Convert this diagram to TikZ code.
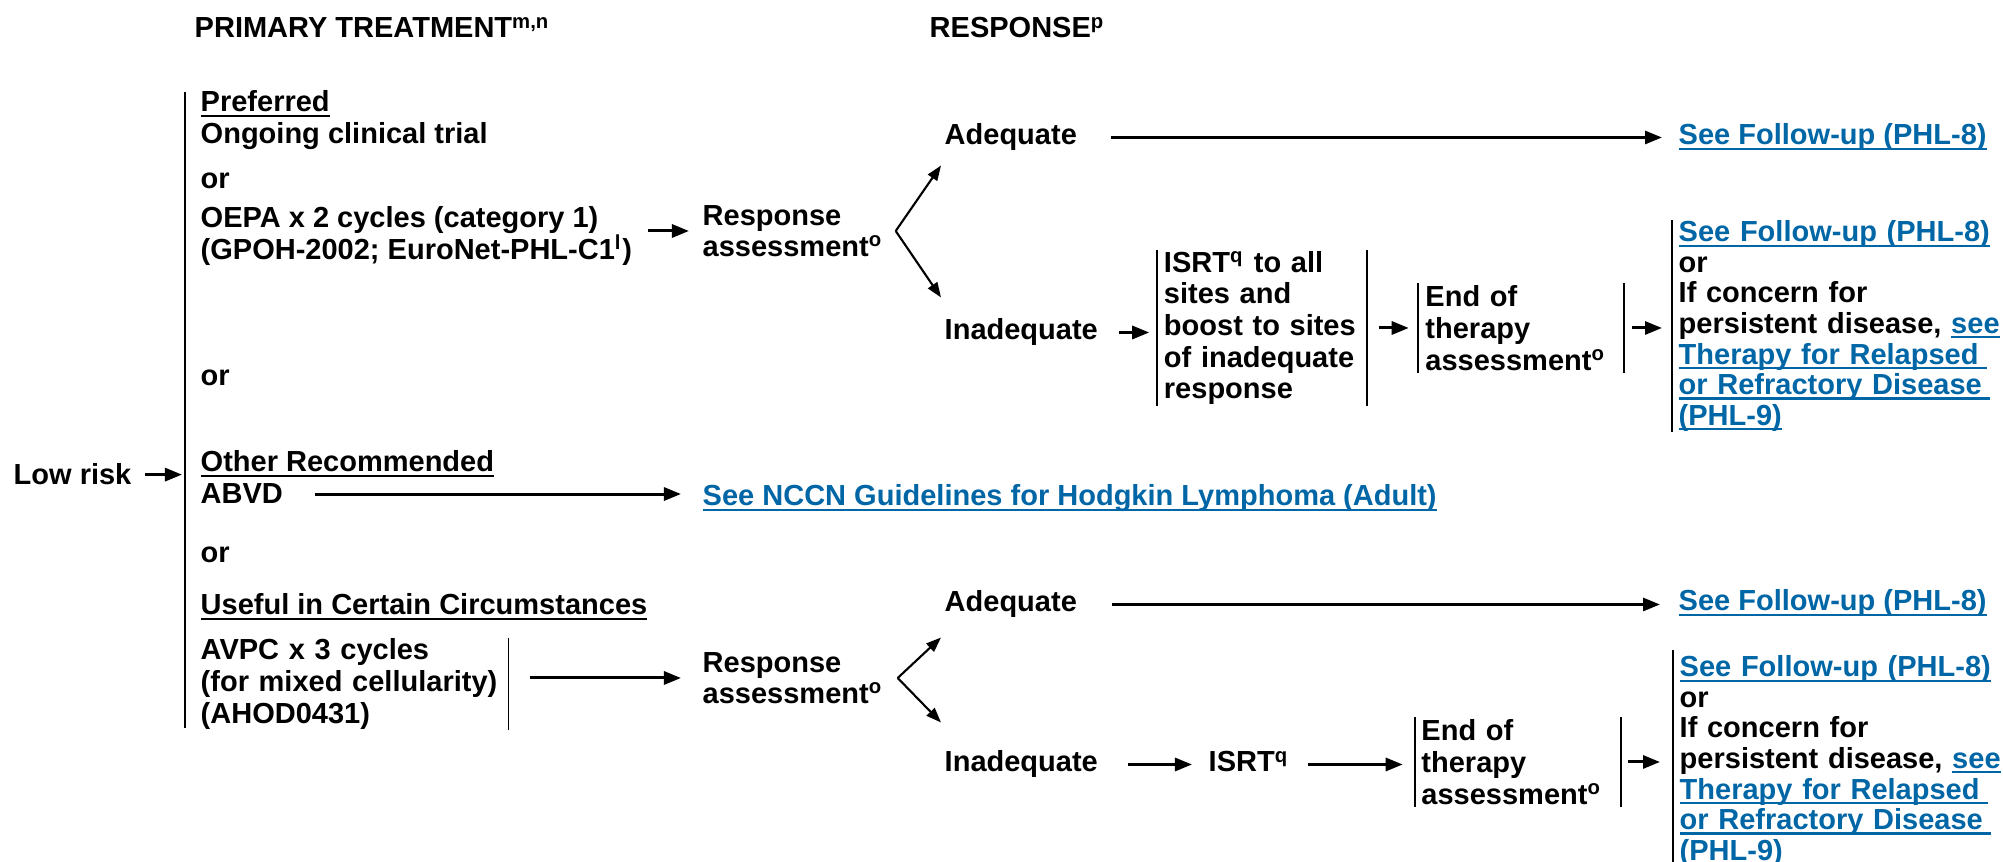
\documentclass[tikz,border=0pt]{standalone}
\usepackage{fontspec}
\setmainfont{Liberation Sans}
\usepackage{xcolor}
\usepackage{tikz}
\usetikzlibrary{arrows.meta,calc,positioning}
\definecolor{linkblue}{RGB}{0,102,166}
\newsavebox{\ulbox}
\newcommand{\undl}[1]{\sbox{\ulbox}{#1}\rlap{\rule[-1.4pt]{\wd\ulbox}{0.6pt}}\usebox{\ulbox}}
\newcommand{\lnk}[1]{\textcolor{linkblue}{\undl{#1}}}
\newcommand{\lnktail}{\textcolor{linkblue}{\rule[-1.4pt]{0.08cm}{0.6pt}}}

\begin{document}
\begin{tikzpicture}[x=0.01cm, y=-0.01cm,
    every node/.style={font=\fontsize{8.25}{9}\selectfont\bfseries, inner sep=0pt},
    txt/.style={anchor=base west},
    blk/.style={align=left, anchor=west},
    barbox/.style={text width=#1, align=left, inner xsep=0.06cm},
    tightfont/.style={font=\fontsize{8.25}{8.7}\selectfont\bfseries},
    arr/.style={line width=0.85pt, -{Triangle[length=0.17cm, width=0.13cm]}},
    forkarr/.style={line width=0.6pt, -{Triangle[length=0.15cm, width=0.11cm]}},
    barln/.style={line width=0.5pt}]
    \useasboundingbox (0,0) rectangle (2003,862);

    \node[txt] (hdtreat) at (194,38) {PRIMARY TREATMENT\textsuperscript{m,n}};
    \node[txt] (hdresp) at (929,38) {RESPONSE\textsuperscript{p}};

    \node[txt] (lowrisk) at (13,485) {Low risk};
    \coordinate (bartop) at (185,92);
    \coordinate (barbot) at (185,728);
    \draw[barln] (bartop) -- (barbot);
    \draw[arr, shorten <=0.13cm, shorten >=0.03cm] (lowrisk.east) -- (lowrisk.east -| bartop);

    \node[txt] (pref) at (200,112) {\undl{Preferred}};
    \node[txt] (ongoing) at (200,144) {Ongoing clinical trial};
    \node[txt] (or1) at (200,189) {or};
    \node[blk] (oepa) at (200,236) {OEPA x 2 cycles (category 1)\\(GPOH-2002; EuroNet-PHL-C1\textsuperscript{l})};
    \node[txt] (or2) at (200,386) {or};
    \node[txt] (other) at (200,472) {\undl{Other Recommended}};
    \node[txt] (abvd) at (200,504) {ABVD};
    \node[txt] (or3) at (200,563) {or};
    \node[txt] (useful) at (200,615) {\undl{Useful in Certain Circumstances}};
    \node[barbox=3.01cm, minimum height=0.88cm, anchor=west] (avpc) at (194,684) {AVPC x 3 cycles\\(for mixed cellularity)\\(AHOD0431)};
    \draw[barln] (avpc.north east) -- (avpc.south east);

    \node[txt] (nccn) at (702,506) {\lnk{See NCCN Guidelines for Hodgkin Lymphoma (Adult)}};
    \draw[arr, shorten <=0.31cm, shorten >=0.21cm] (abvd.east) -- (abvd.east -| nccn.west);

    \node[blk] (resp1) at (702,231) {Response\\assessment\textsuperscript{o}};
    \draw[arr, shorten <=0.15cm, shorten >=0.13cm] (oepa.east |- resp1.west) -- (resp1.west);
    \coordinate (fork1) at ($(resp1.east)+(12,0)$);
    \node[txt] (adeq1) at (944,145) {Adequate};
    \node[txt] (inad1) at (944,340) {Inadequate};
    \draw[forkarr] (fork1) -- ($(adeq1.west)+(-3,28)$);
    \draw[forkarr] (fork1) -- ($(inad1.west)+(-3,-35)$);
    \node[txt] (fu1) at (1678,145) {\lnk{See Follow-up (PHL-8)}};
    \draw[arr, shorten <=0.33cm, shorten >=0.16cm] (adeq1.east) -- (adeq1.east -| fu1.west);

    \node[barbox=1.96cm, minimum height=1.53cm] (isrt1) at (1262,328) {ISRT\textsuperscript{q} to all\\sites and\\boost to sites\\of inadequate\\response};
    \draw[barln] (isrt1.north west) -- (isrt1.south west) (isrt1.north east) -- (isrt1.south east);
    \draw[arr, shorten <=0.2cm, shorten >=0.08cm] (inad1.east) -- (inad1.east -| isrt1.west);
    \node[barbox=1.91cm, minimum height=0.89cm, inner xsep=0.07cm] (eot1) at (1521,328) {End of\\therapy\\assessment\textsuperscript{o}};
    \draw[barln] (eot1.north west) -- (eot1.south west) (eot1.north east) -- (eot1.south east);
    \draw[arr, shorten <=0.12cm, shorten >=0.09cm] (isrt1.east) -- (isrt1.east -| eot1.west);
    \node[barbox=3.25cm, minimum height=2.1cm, anchor=west, tightfont] (fin1) at (1672,326) {\lnk{See Follow-up (PHL-8)}\\or\\If concern for\\persistent disease, \lnk{see}\\\lnk{Therapy for Relapsed}\lnktail\\\lnk{or Refractory Disease}\lnktail\\\lnk{(PHL-9)}};
    \draw[barln] (fin1.north west) -- (fin1.south west);
    \draw[arr, shorten <=0.08cm, shorten >=0.1cm] (eot1.east) -- (eot1.east -| fin1.west);

    \node[blk] (resp2) at (702,678) {Response\\assessment\textsuperscript{o}};
    \draw[arr, shorten <=0.21cm, shorten >=0.21cm] (avpc.east |- resp2.west) -- (resp2.west);
    \coordinate (fork2) at ($(resp2.east)+(14,0)$);
    \node[txt] (adeq2) at (944,612) {Adequate};
    \node[txt] (inad2) at (944,772) {Inadequate};
    \draw[forkarr] (fork2) -- ($(adeq2.west)+(-3,33)$);
    \draw[forkarr] (fork2) -- ($(inad2.west)+(-3,-42)$);
    \node[txt] (fu2) at (1678,611) {\lnk{See Follow-up (PHL-8)}};
    \draw[arr, shorten <=0.34cm, shorten >=0.18cm] (adeq2.east) -- (adeq2.east -| fu2.west);

    \node[txt] (isrt2) at (1208,772) {ISRT\textsuperscript{q}};
    \draw[arr, shorten <=0.29cm, shorten >=0.16cm] (inad2.east) -- (inad2.east -| isrt2.west);
    \node[barbox=1.93cm, minimum height=0.89cm] (eot2) at (1518,762) {End of\\therapy\\assessment\textsuperscript{o}};
    \draw[barln] (eot2.north west) -- (eot2.south west) (eot2.north east) -- (eot2.south east);
    \draw[arr, shorten <=0.18cm, shorten >=0.12cm] (isrt2.east |- inad2.east) -- (inad2.east -| eot2.west);
    \node[barbox=3.25cm, minimum height=2.2cm, anchor=west, tightfont] (fin2) at (1673,761) {\lnk{See Follow-up (PHL-8)}\\or\\If concern for\\persistent disease, \lnk{see}\\\lnk{Therapy for Relapsed}\lnktail\\\lnk{or Refractory Disease}\lnktail\\\lnk{(PHL-9)}};
    \draw[barln] (fin2.north west) -- (fin2.south west);
    \draw[arr, shorten <=0.07cm, shorten >=0.13cm] (eot2.east) -- (eot2.east -| fin2.west);
\end{tikzpicture}
\end{document}
